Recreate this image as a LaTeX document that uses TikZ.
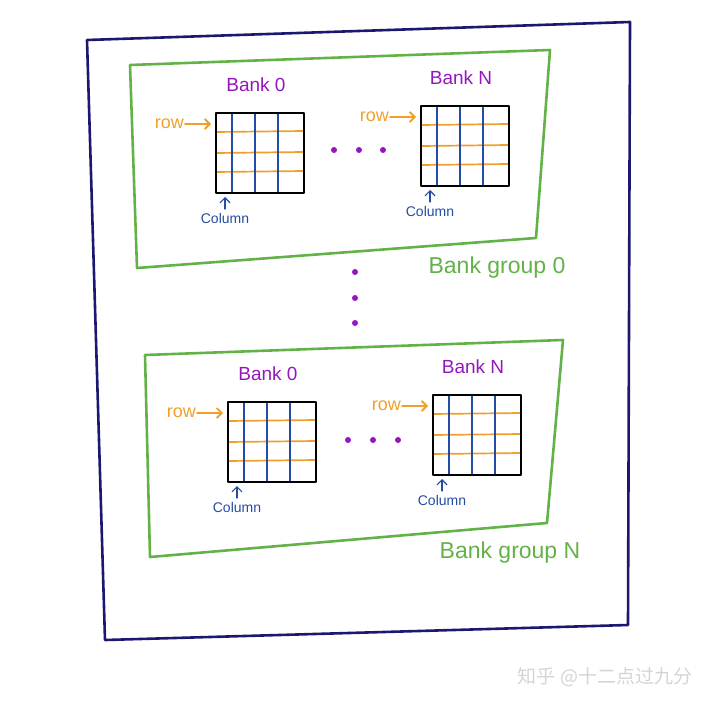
\documentclass[tikz,border=0pt]{standalone}
\usepackage{fontspec}
\newfontfamily\handfont{Liberation Sans}
\newfontfamily\cjkfont{Noto Sans CJK SC}
\usepackage{tikz}
\usetikzlibrary{arrows,arrows.meta,calc,positioning}
\usepackage{xcolor}
\definecolor{chipnavy}{RGB}{28,24,112}
\definecolor{groupgreen}{RGB}{98,178,72}
\definecolor{bankpurple}{RGB}{150,22,190}
\definecolor{roworange}{RGB}{240,160,42}
\definecolor{colblue}{RGB}{36,76,162}
\definecolor{markgray}{RGB}{212,212,212}

\begin{document}
\begin{tikzpicture}[x=1pt,y=-1pt,>={Straight Barb[length=5pt,width=10pt]},
    chip/.style={chipnavy,line width=2.6pt,line join=round},
    group/.style={groupgreen,line width=2.6pt,line join=round},
    frame/.style={black,line width=1.9pt,line join=round},
    rowline/.style={roworange,line width=1.7pt},
    colline/.style={colblue,line width=1.4pt},
    banktitle/.style={bankpurple,font=\handfont\fontsize{19}{21}\selectfont},
    rowtext/.style={roworange,inner sep=1pt,font=\handfont\fontsize{18}{20}\selectfont},
    coltext/.style={colblue,font=\handfont\fontsize{14}{16}\selectfont},
    grouptext/.style={groupgreen,font=\handfont\fontsize{23}{26}\selectfont},
    dot/.style={circle,fill=bankpurple,inner sep=0pt,minimum size=6pt}]
    \useasboundingbox (0,0) rectangle (720,706);

    % chip outline
    \draw[chip] (87,40) -- (630,22) -- (628,625) -- (105,640) -- cycle;

    % bank groups
    \draw[group] (130,65) -- (550,50) -- (536,238) -- (137,268) -- cycle;
    \draw[group] (145,355) -- (563,340) -- (547,523) -- (150,557) -- cycle;
    \node[grouptext] (group0) at (497,268) {Bank group 0};
    \node[grouptext] (groupN) at (510,553) {Bank group N};

    % banks: grid, title, row and column pointers
    \foreach \gx/\gy/\nm/\ttl in {216/113/ga/0, 421/106/gb/N, 228/402/gc/0, 433/395/gd/N} {
        \coordinate (\nm) at (\gx,\gy);
        \foreach \r in {19,40,59}
            \draw[rowline] ($(\nm)+(0,\r)$) -- ++(88,-1);
        \foreach \c in {16,39,62}
            \draw[colline] ($(\nm)+(\c,0)$) -- ++(0,80);
        \draw[frame] (\nm) rectangle ++(88,80);
        \node[banktitle] (\nm-title) at ($(\nm)+(40,-28)$) {Bank \ttl};
        % row pointer
        \coordinate (\nm-r) at ($(\nm)+(-5,11)$);
        \node[rowtext, left=26pt of \nm-r] (\nm-row) {row};
        \draw[roworange,line width=1.8pt,->,line cap=round] (\nm-row) -- (\nm-r);
        % column pointer
        \coordinate (\nm-c) at ($(\nm)+(9,84)$);
        \coordinate (\nm-ct) at ($(\nm)+(9,96)$);
        \node[coltext, below=1pt of \nm-ct] (\nm-col) {Column};
        \draw[colblue,line width=1.2pt,->,line cap=round] (\nm-ct) -- (\nm-c);
    }

    % ellipses
    \foreach \dx/\dy/\nm in {334/150/ha, 359/150/hb, 383/150/hc,
                             348/440/hd, 373/440/he, 398/440/hf,
                             355/272/va, 355/298/vb, 355/323/vc}
        \node[dot] (\nm) at (\dx,\dy) {};

    % watermark
    \node[markgray,font=\cjkfont\fontsize{19}{21}\selectfont] (mark) at (605,677) {知乎 @十二点过九分};
\end{tikzpicture}
\end{document}
